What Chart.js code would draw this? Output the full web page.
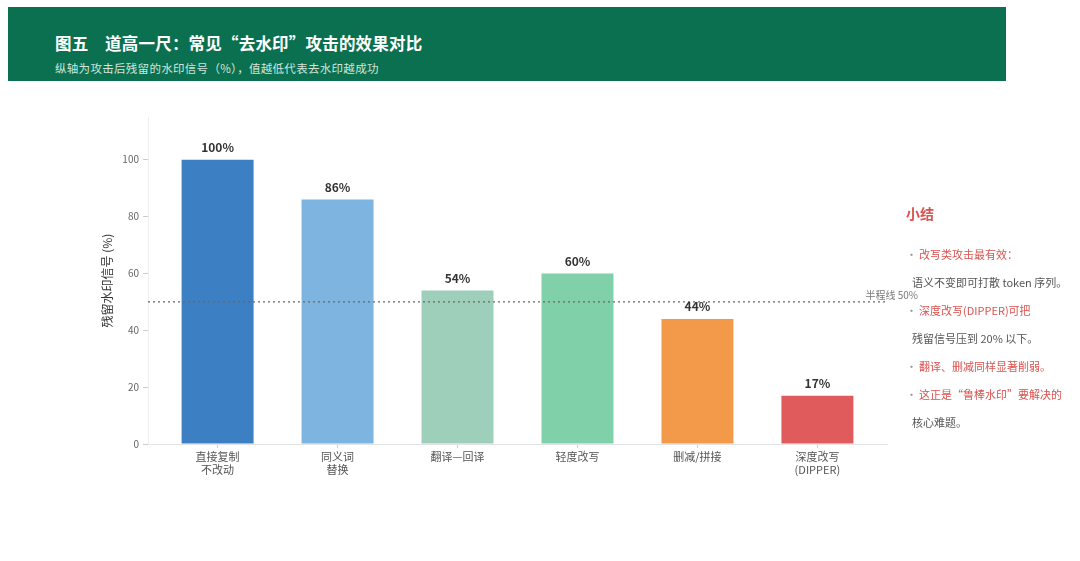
<!DOCTYPE html>
<html lang="zh-CN">
<head>
<meta charset="utf-8">
<script src="https://cdn.jsdelivr.net/npm/chart.js@4.4.1/dist/chart.umd.min.js"></script>
<style>
  html, body { margin: 0; padding: 0; background: #fff; width: 1080px; height: 561px; overflow: hidden; font-family: "Noto Sans CJK SC", "Noto Sans", sans-serif; }
  .header { position: absolute; left: 8px; top: 7px; width: 998px; height: 74px; background: #0b7050; }
  .header h1 { position: absolute; left: 47px; top: 24px; margin: 0; font-size: 16.5px; font-weight: 700; color: #fff; letter-spacing: 0.2px; }
  .header p { position: absolute; left: 47px; top: 53px; margin: 0; font-size: 11.5px; color: #cfe6dc; letter-spacing: 0.3px; }
  .chart-box { position: absolute; left: 98px; top: 100px; width: 832px; height: 384px; }
  .notes { position: absolute; left: 906px; top: 203px; font-size: 11px; }
  .notes h2 { margin: 0 0 17px 0; font-size: 14px; font-weight: 700; color: #d9534f; }
  .notes div { height: 28px; line-height: 28px; white-space: nowrap; }
  .notes .b { color: #d9534f; }
  .notes .b span { color: #999; margin-right: 2px; }
  .notes .g { color: #555; padding-left: 6px; }
</style>
</head>
<body>
<div class="header">
  <h1>图五　道高一尺：常见“去水印”攻击的效果对比</h1>
  <p>纵轴为攻击后残留的水印信号（%），值越低代表去水印越成功</p>
</div>
<div class="chart-box"><canvas id="c"></canvas></div>
<div class="notes">
  <h2>小结</h2>
  <div class="b"><span>·</span>改写类攻击最有效：</div>
  <div class="g">语义不变即可打散 token 序列。</div>
  <div class="b"><span>·</span>深度改写(DIPPER)可把</div>
  <div class="g">残留信号压到 20% 以下。</div>
  <div class="b"><span>·</span>翻译、删减同样显著削弱。</div>
  <div class="b"><span>·</span>这正是“鲁棒水印”要解决的</div>
  <div class="g">核心难题。</div>
</div>
<script>
const categories = [['直接复制', '不改动'], ['同义词', '替换'], '翻译—回译', '轻度改写', '删减/拼接', ['深度改写', '(DIPPER)']];
const residual = [100, 86, 54, 60, 44, 17];
const barColors = ['#3c80c3', '#7db4e0', '#9dcfbb', '#80d0a9', '#f29a4a', '#e05b5c'];
const yTicks = [0, 20, 40, 60, 80, 100];
const halfLine = 50;

const annotate = {
  id: 'annotate',
  afterDatasetsDraw(chart) {
    const { ctx, chartArea, scales } = chart;
    const y = scales.y.getPixelForValue(halfLine);
    ctx.save();
    ctx.strokeStyle = '#666';
    ctx.lineWidth = 1.3;
    ctx.setLineDash([2, 3]);
    ctx.beginPath();
    ctx.moveTo(chartArea.left, y);
    ctx.lineTo(chartArea.right, y);
    ctx.stroke();
    ctx.setLineDash([]);
    ctx.font = '10px "Noto Sans CJK SC"';
    ctx.fillStyle = '#777';
    ctx.textAlign = 'right';
    ctx.textBaseline = 'bottom';
    ctx.fillText('半程线 50%', chartArea.right + 31, y - 2);

    const meta = chart.getDatasetMeta(0);
    ctx.font = 'bold 12px "Noto Sans CJK SC"';
    ctx.fillStyle = '#333';
    ctx.textAlign = 'center';
    ctx.textBaseline = 'bottom';
    meta.data.forEach((bar, i) => {
      ctx.fillText(residual[i] + '%', bar.x, bar.y - 6);
    });
    ctx.restore();
  }
};

new Chart(document.getElementById('c'), {
  type: 'bar',
  data: {
    datasets: [{
      data: residual.map((v, i) => ({ x: i, y: v })),
      backgroundColor: barColors,
      borderWidth: 0,
      categoryPercentage: 0.6,
      barPercentage: 1,
    }],
  },
  options: {
    responsive: true,
    maintainAspectRatio: false,
    animation: false,
    layout: { padding: { top: 17, right: 43, left: 0, bottom: 0 } },
    plugins: { legend: { display: false }, tooltip: { enabled: false } },
    scales: {
      x: {
        type: 'linear',
        offset: false,
        min: -0.58,
        max: categories.length - 1 + 0.58,
        grid: { offset: false, drawOnChartArea: false, drawTicks: true, tickLength: 4, color: '#ccc' },
        border: { color: '#e3e3e3' },
        ticks: {
          color: '#555', font: { size: 11, family: 'Noto Sans CJK SC' }, padding: 2, maxRotation: 0, autoSkip: false,
          callback: (v) => categories[v],
        },
        afterBuildTicks: (s) => { s.ticks = categories.map((c, i) => ({ value: i })); },
        afterFit: (s) => { s.height = 40; },
      },
      y: {
        min: 0,
        max: 115,
        grid: { drawOnChartArea: false, drawTicks: true, tickLength: 5, color: '#ccc' },
        border: { color: '#eee' },
        ticks: { color: '#666', font: { size: 10, family: 'Noto Sans CJK SC' }, padding: 4 },
        afterBuildTicks: (s) => { s.ticks = yTicks.map(v => ({ value: v })); },
        title: { display: true, text: '残留水印信号 (%)', color: '#333', font: { size: 12, family: 'Noto Sans CJK SC' }, padding: 2 },
        afterFit: (s) => { s.width = 50; },
      },
    },
  },
  plugins: [annotate],
});
</script>
</body>
</html>
